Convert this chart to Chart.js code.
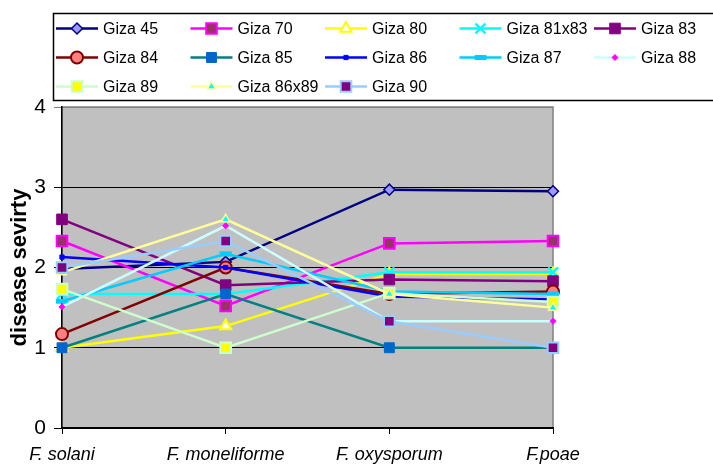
<!DOCTYPE html>
<html>
<head>
<meta charset="utf-8">
<script src="https://cdn.jsdelivr.net/npm/chart.js@4.4.1/dist/chart.umd.min.js"></script>
<style>
  html, body { margin: 0; padding: 0; background: #fff; }
  #wrap { width: 713px; height: 464px; }
</style>
</head>
<body>
<div id="wrap"><canvas id="lineChart" width="713" height="464"></canvas></div>
<script>
const categories = ["F. solani", "F. moneliforme", "F. oxysporum", "F.poae"];
const yTicks = [0, 1, 2, 3, 4];

const giza45 = [1.98, 2.07, 2.97, 2.95];
const giza70 = [2.33, 1.52, 2.30, 2.33];
const giza80 = [1.00, 1.27, 1.92, 1.92];
const giza81x83 = [1.67, 1.67, 1.94, 1.94];
const giza83 = [2.60, 1.78, 1.85, 1.83];
const giza84 = [1.17, 2.00, 1.67, 1.70];
const giza85 = [1.00, 1.67, 1.00, 1.00];
const giza86 = [2.13, 2.00, 1.64, 1.60];
const giza87 = [1.58, 2.17, 1.70, 1.67];
const giza88 = [1.51, 2.52, 1.33, 1.33];
const giza89 = [1.73, 1.00, 1.68, 1.57];
const giza86x89 = [1.94, 2.60, 1.67, 1.50];
const giza90 = [2.00, 2.33, 1.33, 1.00];

// line colour, marker style, marker fill, marker border, radius, marker border width
const series = [
  ["Giza 45", giza45, "#000080", "rectRot", "#9999FF", "#000080", 5.5, 1.5],
  ["Giza 70", giza70, "#FF00FF", "rect", "#993366", "#FF00FF", 7.5, 2],
  ["Giza 80", giza80, "#FFFF00", "triangle", "#FFFFFF", "#FFFF00", 6.5, 2],
  ["Giza 81x83", giza81x83, "#00FFFF", "crossRot", "#00FFFF", "#00FFFF", 7, 2.5],
  ["Giza 83", giza83, "#800080", "rect", "#800080", "#800080", 7.5, 1],
  ["Giza 84", giza84, "#800000", "circle", "#FF8080", "#800000", 6, 2],
  ["Giza 85", giza85, "#008080", "rect", "#0066CC", "#0066CC", 7, 1],
  ["Giza 86", giza86, "#0000FF", "rect", "#0000FF", "#0000FF", 3, 1],
  ["Giza 87", giza87, "#00CCFF", "line", "#00CCFF", "#00CCFF", 6, 5],
  ["Giza 88", giza88, "#CCFFFF", "rectRot", "#FF00FF", "#FF00FF", 3, 1],
  ["Giza 89", giza89, "#CCFFCC", "rect", "#FFFF00", "#CCFFCC", 7.5, 2],
  ["Giza 86x89", giza86x89, "#FFFF99", "triangle", "#00FFFF", "#FFFF99", 5, 1.5],
  ["Giza 90", giza90, "#99CCFF", "rect", "#800080", "#99CCFF", 7.5, 2]
];

const datasets = series.map((s, i) => ({
  label: s[0],
  data: s[1],
  borderColor: s[2],
  borderWidth: 2.5,
  pointStyle: s[3],
  pointBackgroundColor: s[4],
  pointBorderColor: s[5],
  pointRadius: s[6],
  pointBorderWidth: s[7],
  tension: 0,
  fill: false,
  order: series.length - i
}));

const plotBack = {
  id: "plotBack",
  beforeDraw(chart) {
    const { ctx, chartArea: a } = chart;
    ctx.save();
    ctx.fillStyle = "#C0C0C0";
    ctx.fillRect(a.left, a.top, a.right - a.left, a.bottom - a.top);
    ctx.strokeStyle = "#808080";
    ctx.lineWidth = 1.5;
    ctx.strokeRect(a.left, a.top, a.right - a.left, a.bottom - a.top);
    ctx.restore();
  }
};

const boxLegend = {
  id: "boxLegend",
  afterDraw(chart) {
    const ctx = chart.ctx;
    ctx.save();
    ctx.strokeStyle = "#000";
    ctx.lineWidth = 1.5;
    ctx.strokeRect(53.5, 13.5, 700, 87);
    ctx.font = "16px 'Liberation Sans', Arial, sans-serif";
    ctx.textBaseline = "middle";
    ctx.fillStyle = "#000";
    chart.data.datasets.forEach((ds, i) => {
      const col = i % 5, row = Math.floor(i / 5);
      const x = 56 + col * 134.5;
      const y = 28.5 + row * 29;
      ctx.strokeStyle = ds.borderColor;
      ctx.lineWidth = 2.5;
      ctx.beginPath();
      ctx.moveTo(x, y);
      ctx.lineTo(x + 42, y);
      ctx.stroke();
      ctx.fillStyle = ds.pointBackgroundColor;
      ctx.strokeStyle = ds.pointBorderColor;
      ctx.lineWidth = ds.pointBorderWidth;
      Chart.helpers.drawPoint(ctx, { pointStyle: ds.pointStyle, radius: ds.pointRadius, borderWidth: ds.pointBorderWidth, rotation: 0 }, x + 21, y);
      ctx.fillStyle = "#000";
      ctx.fillText(ds.label, x + 47, y + 1);
    });
    ctx.restore();
  }
};

new Chart(document.getElementById("lineChart"), {
  type: "line",
  data: { labels: categories, datasets: datasets },
  options: {
    responsive: false,
    animation: false,
    layout: { padding: { left: 0, right: 160, top: 107, bottom: 0 } },
    plugins: { legend: { display: false }, tooltip: { enabled: false } },
    scales: {
      x: {
        offset: false,
        grid: { drawOnChartArea: false, drawTicks: true, tickLength: 6, color: "#000" },
        border: { color: "#000", width: 1.5 },
        ticks: {
          color: "#000",
          padding: 10,
          maxRotation: 0,
          autoSkip: false,
          font: { family: "'Liberation Sans', Arial, sans-serif", size: 18, style: "italic" }
        },
        afterFit(scale) { scale.height = 36; }
      },
      y: {
        min: 0,
        max: 4,
        afterBuildTicks(scale) { scale.ticks = yTicks.map(v => ({ value: v })); },
        grid: {
          color: (c) => (c.tick && c.tick.value === 4 ? "#808080" : "#000"),
          lineWidth: 1,
          tickLength: 8,
          drawTicks: true
        },
        border: { color: "#000", width: 1.5 },
        ticks: {
          color: "#000",
          padding: 8,
          font: { family: "'Liberation Sans', Arial, sans-serif", size: 21 }
        },
        title: {
          display: true,
          text: "disease sevirty",
          color: "#000",
          padding: { top: 7, bottom: 0 },
          font: { family: "'Liberation Sans', Arial, sans-serif", size: 22, weight: "bold" }
        },
        afterFit(scale) { scale.width = 62; }
      }
    }
  },
  plugins: [plotBack, boxLegend]
});
</script>
</body>
</html>
